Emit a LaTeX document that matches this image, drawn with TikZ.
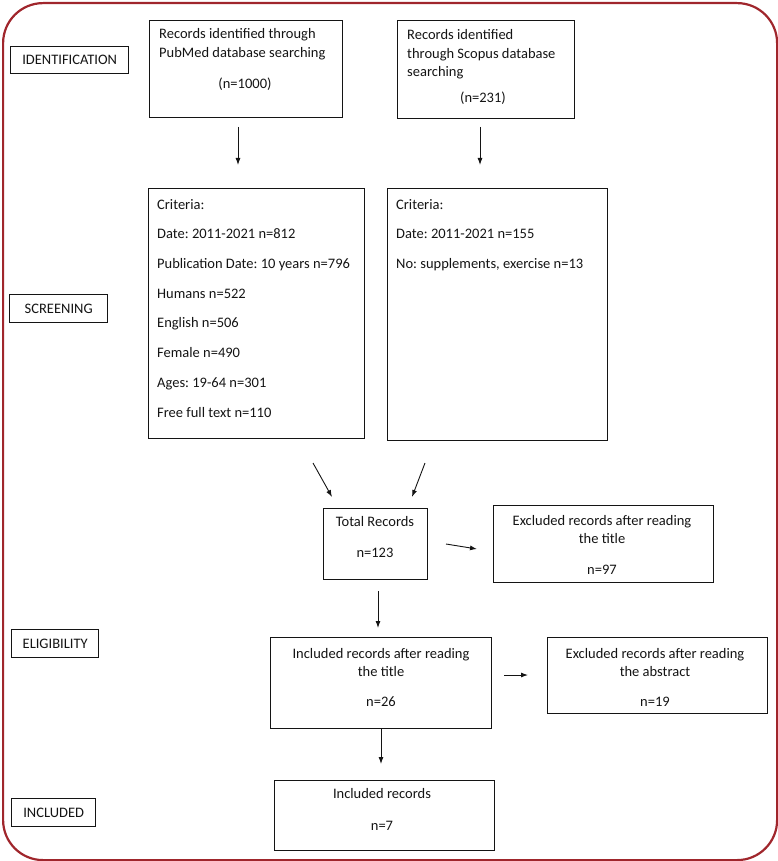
\documentclass[tikz,border=0pt]{standalone}
\usepackage{fontspec}
\setmainfont{Carlito}
\frenchspacing
\usetikzlibrary{arrows.meta}
\definecolor{framecol}{HTML}{A0262C}
\definecolor{ink}{HTML}{141414}
\begin{document}
\begin{tikzpicture}[x=1pt,y=-1pt,
 box/.style={draw=ink, line width=1.2pt, rectangle, inner sep=0pt, anchor=north west},
 lab/.style={draw=ink, line width=1.4pt, rectangle, inner sep=0pt, anchor=north west, font=\fontsize{14.5}{17}\selectfont, text=ink},
 txt/.style={inner sep=0pt, font=\fontsize{14.5}{18.5}\selectfont, text=ink},
 crit/.style={inner sep=0pt, font=\fontsize{14.5}{29.7}\selectfont, text=ink, align=left, anchor=base west},
 arr/.style={draw=ink, line width=0.9pt, -{Latex[length=7pt,width=5pt]}}]
\useasboundingbox (0,0) rectangle (778,861);
\node[draw=framecol, line width=2.2pt, rounded corners=40pt, minimum width=774pt, minimum height=857pt, anchor=north west, inner sep=0pt] (frame) at (2,2) {};

% stage labels
\node[lab, minimum width=118pt, minimum height=27pt] (lid) at (10,46) {IDENTIFICATION};
\node[lab, minimum width=98pt, minimum height=28pt] (lsc) at (9,294) {SCREENING};
\node[lab, minimum width=87pt, minimum height=28pt] (lel) at (11,629) {ELIGIBILITY};
\node[lab, minimum width=84pt, minimum height=28pt] (lin) at (11,798) {INCLUDED};

% boxes
\node[box, minimum width=193pt, minimum height=97pt] (pub) at (149,20) {};
\node[box, minimum width=177pt, minimum height=98pt] (sco) at (397,20) {};
\node[box, minimum width=216pt, minimum height=250pt] (crl) at (148,188) {};
\node[box, minimum width=220pt, minimum height=252pt] (crr) at (387,188) {};
\node[box, minimum width=104pt, minimum height=71pt] (tot) at (323,508) {};
\node[box, minimum width=220pt, minimum height=77pt] (ext) at (493,505) {};
\node[box, minimum width=221pt, minimum height=91pt] (int) at (270,637) {};
\node[box, minimum width=220pt, minimum height=76pt] (exa) at (547,637) {};
\node[box, minimum width=220pt, minimum height=70pt] (inc) at (274,780) {};

% texts (anchor base = baseline of the last line)
\node[txt, align=left, anchor=base west] (pubt) at (159,57.5) {Records identified through\\PubMed database searching};
\node[txt, anchor=base] (pubn) at (245,89) {(n=1000)};
\node[txt, align=left, anchor=base west] (scot) at (407,77) {Records identified\\through Scopus database\\searching};
\node[txt, anchor=base] (scon) at (483,103) {(n=231)};
\node[crit] (crlt) at (157,417) {Criteria:\\Date: 2011-2021 n=812\\Publication Date: 10 years n=796\\Humans n=522\\English n=506\\Female n=490\\Ages: 19-64 n=301\\Free full text n=110};
\node[crit] (crrt) at (396,268.4) {Criteria:\\Date: 2011-2021 n=155\\No: supplements, exercise n=13};
\node[txt, anchor=base] (tott) at (375,526) {Total Records};
\node[txt, anchor=base] (totn) at (375,557) {n=123};
\node[txt, align=center, anchor=base] (extt) at (602,543.5) {Excluded records after reading\\the title};
\node[txt, anchor=base] (extn) at (602,574) {n=97};
\node[txt, align=center, anchor=base] (intt) at (381,676.5) {Included records after reading\\the title};
\node[txt, anchor=base] (intn) at (381,706) {n=26};
\node[txt, align=center, anchor=base] (exat) at (655,676.5) {Excluded records after reading\\the abstract};
\node[txt, anchor=base] (exan) at (655,706) {n=19};
\node[txt, anchor=base] (inct) at (382,798) {Included records};
\node[txt, anchor=base] (incn) at (382,830) {n=7};

% connectors
\coordinate (a1s) at (238,127); \coordinate (a1e) at (238,165);
\coordinate (a2s) at (480,127); \coordinate (a2e) at (480,165);
\coordinate (a3s) at (313,463); \coordinate (a3e) at (332,497);
\coordinate (a4s) at (425,463); \coordinate (a4e) at (412,497);
\coordinate (a5s) at (446,544); \coordinate (a5e) at (477,549);
\coordinate (a6s) at (378,591); \coordinate (a6e) at (378,628);
\coordinate (a7s) at (504,675); \coordinate (a7e) at (528,675);
\coordinate (a8e) at (381,764);
\draw[arr] (a1s) -- (a1e);
\draw[arr] (a2s) -- (a2e);
\draw[arr] (a3s) -- (a3e);
\draw[arr] (a4s) -- (a4e);
\draw[arr] (a5s) -- (a5e);
\draw[arr] (a6s) -- (a6e);
\draw[arr] (a7s) -- (a7e);
\draw[arr] (int.south -| a8e) -- (a8e);
\end{tikzpicture}
\end{document}
